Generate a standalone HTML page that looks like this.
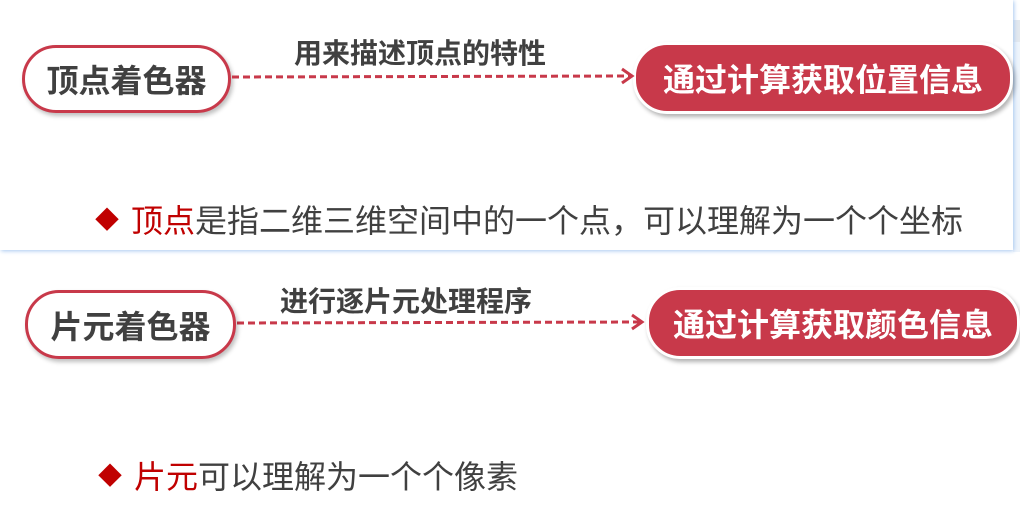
<!DOCTYPE html>
<html><head><meta charset="utf-8"><style>
body{margin:0;width:1020px;height:509px;background:#fff;position:relative;overflow:hidden;font-family:"Liberation Sans","Noto Sans CJK SC",sans-serif}
.side{position:absolute;left:1013px;top:20px;width:7px;height:232px;background:#eef4fb}
.side2{position:absolute;left:1013px;top:20px;width:7px;height:22px;background:#e3e8ee}
.panel{position:absolute;left:0;top:0;width:1013px;height:250px;background:#fff;box-shadow:1px 1px 4px #a8c8f0}
.pill{position:absolute;border-radius:34px;box-sizing:border-box;display:flex;align-items:center;justify-content:center;font-weight:bold;white-space:nowrap}
.l{background:#fff;border:3px solid #c8394a;color:#404040;font-size:32px;box-shadow:2px 3px 4px rgba(0,0,0,.25)}
.r{background:#c8394a;border:3px solid #fff;color:#fff;font-size:32px;box-shadow:2px 3px 4px rgba(0,0,0,.3)}
.lab{position:absolute;font-weight:bold;font-size:28px;color:#404040;white-space:nowrap}
.b{position:absolute;font-size:32px;color:#404040;white-space:nowrap}
.b .d{color:#c00000;font-size:24px;margin-right:12px;position:relative;top:-4px}
.b .k{color:#c00000}
</style></head><body>
<div class="side"></div><div class="side2"></div>
<div class="panel"></div>
<div class="pill l" style="left:22px;top:45px;width:209px;height:68px">顶点着色器</div>
<div class="pill r" style="left:633px;top:42px;width:380px;height:72px">通过计算获取位置信息</div>
<div class="lab" style="left:294px;top:32px">用来描述顶点的特性</div>
<svg style="position:absolute;left:0;top:0" width="1020" height="509">
<g stroke="#c8394a" stroke-width="3" fill="none">
<line x1="232" y1="77" x2="630" y2="76" stroke-dasharray="7,4"/>
<polyline points="622,69 632,76 622,83"/>
<line x1="237" y1="323" x2="640" y2="322" stroke-dasharray="7,4"/>
<polyline points="632,315 642,322 632,329"/>
</g></svg>
<div class="b" style="left:95px;top:196px"><span class="d">◆</span><span class="k">顶点</span>是指二维三维空间中的一个点，可以理解为一个个坐标</div>
<div class="pill l" style="left:25px;top:290px;width:211px;height:69px">片元着色器</div>
<div class="pill r" style="left:646px;top:287px;width:374px;height:72px">通过计算获取颜色信息</div>
<div class="lab" style="left:280px;top:280px">进行逐片元处理程序</div>
<div class="b" style="left:98px;top:452px"><span class="d">◆</span><span class="k">片元</span>可以理解为一个个像素</div>
</body></html>
